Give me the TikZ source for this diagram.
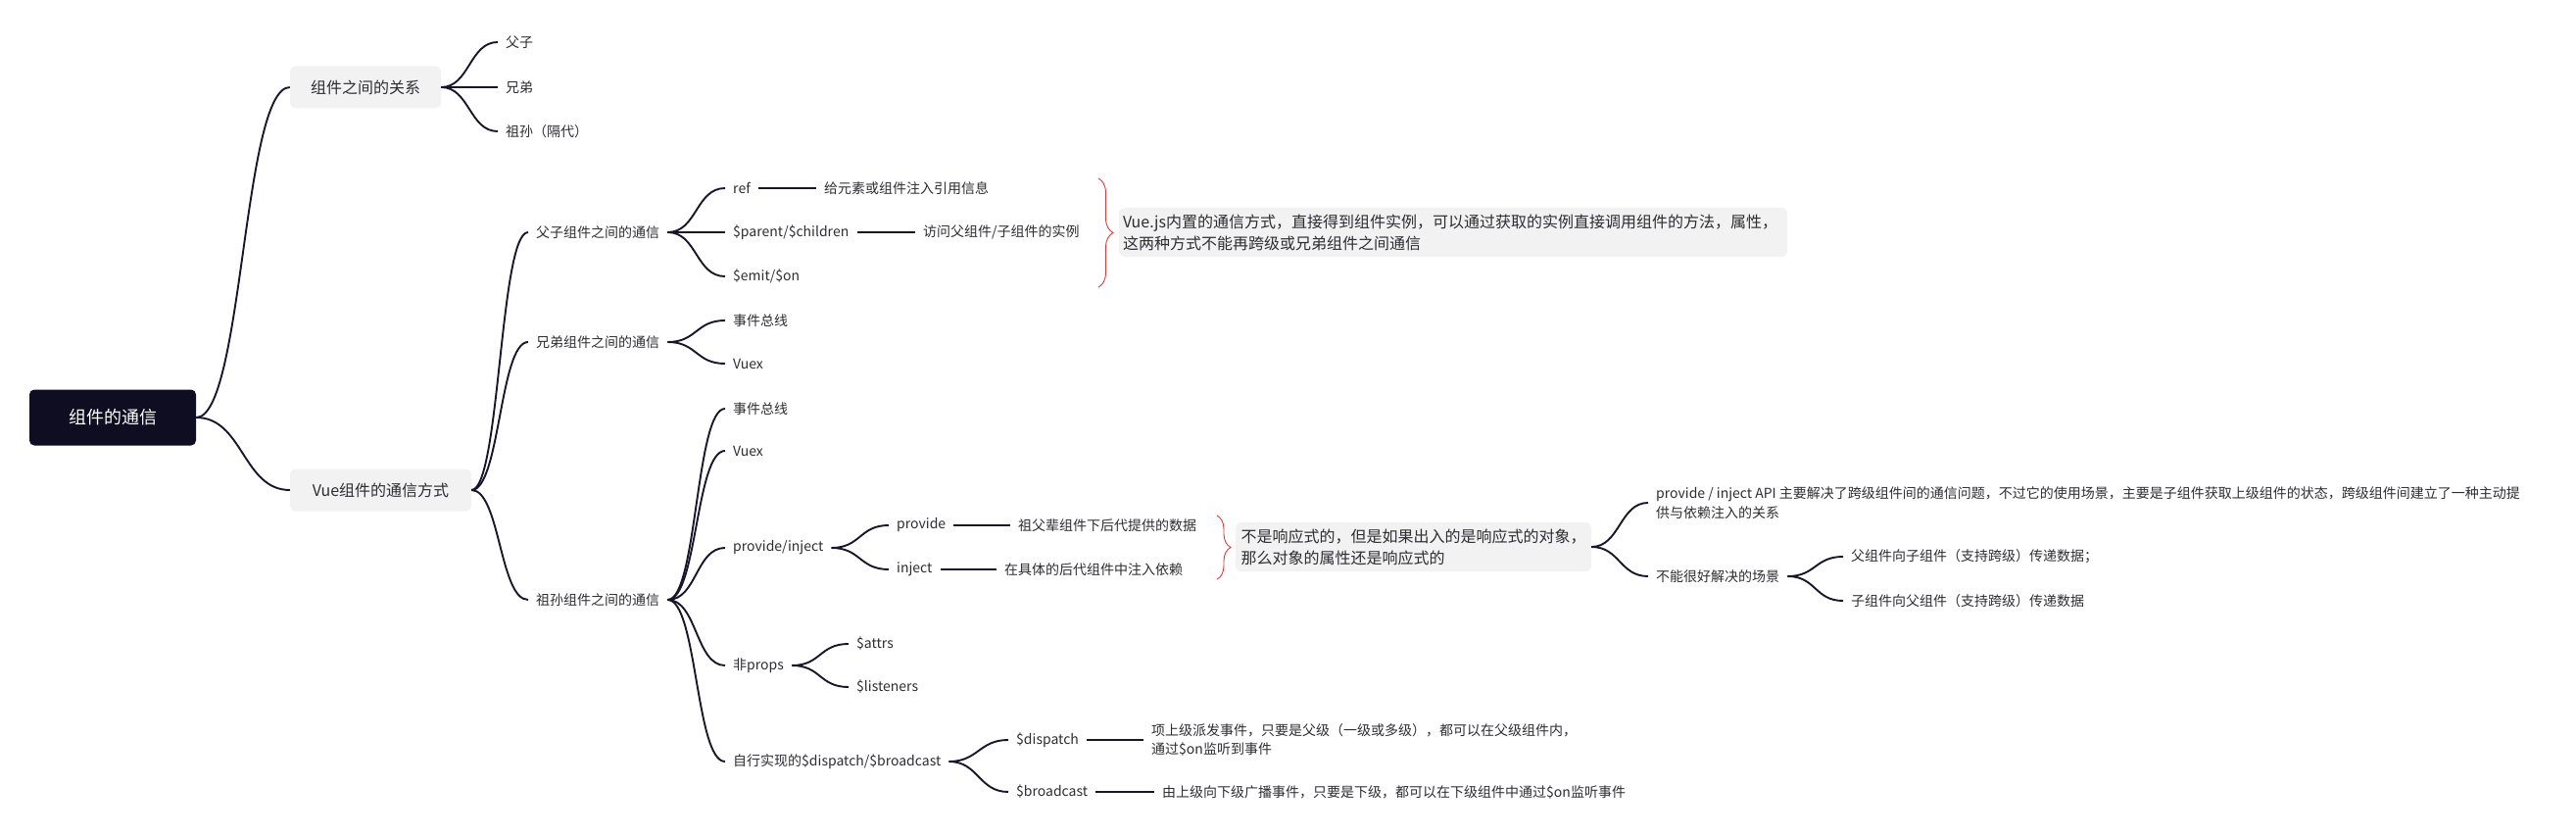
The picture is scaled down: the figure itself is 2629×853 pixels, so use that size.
\documentclass[tikz,border=0pt]{standalone}
\usepackage{fontspec}
\setmainfont{Noto Sans CJK SC}
\usetikzlibrary{decorations.pathreplacing}
\definecolor{rootnavy}{RGB}{15,13,33}
\definecolor{boxgray}{RGB}{242,242,242}
\definecolor{inkgray}{RGB}{45,45,50}
\definecolor{wirenavy}{RGB}{24,22,42}
\definecolor{bracered}{RGB}{220,60,60}
\tikzset{rootbox/.style={fill=rootnavy, text=white, rounded corners=5pt,
  minimum width=170pt, minimum height=57pt, font=\fontsize{18}{22}\selectfont}}
\tikzset{topic/.style={fill=boxgray, text=inkgray, rounded corners=6pt,
  minimum height=43pt, font=\fontsize{16}{20}\selectfont}}
\tikzset{leaf/.style={anchor=west, inner xsep=8pt, inner ysep=2pt, text=inkgray,
  align=left, font=\fontsize{14}{19}\selectfont}}
\tikzset{note/.style={fill=boxgray, text=inkgray, rounded corners=6pt,
  minimum height=50pt, align=left, font=\fontsize{16}{22}\selectfont}}
\tikzset{fork/.style={draw=wirenavy, line width=1.9pt,
  to path={.. controls +(#1,0) and +(-#1,0) .. (\tikztotarget)}}}
\tikzset{stemline/.style={draw=wirenavy, line width=2.4pt}}
\tikzset{curly/.style={decorate, decoration={brace, amplitude=#1},
  draw=bracered, line width=0.9pt}}

\begin{document}
\begin{tikzpicture}[x=1pt,y=-1pt]
  \useasboundingbox (0,0) rectangle (2629,853);
  \node [rootbox] (root) at (115,426) {组件的通信};
  \node [topic, minimum width=154pt] (rel) at (373,89) {组件之间的关系};
  \node [topic, minimum width=185pt] (vue) at (388.5,500) {Vue组件的通信方式};
  \node [leaf] (fz) at (508,43) {父子};
  \node [leaf] (xd) at (508,89) {兄弟};
  \node [leaf] (zs) at (508,134) {祖孙（隔代）};
  \node [leaf] (fzc) at (539,237) {父子组件之间的通信};
  \node [leaf] (xdc) at (539,349) {兄弟组件之间的通信};
  \node [leaf] (zsc) at (539,612) {祖孙组件之间的通信};
  \node [leaf] (ref) at (740,192) {ref};
  \node [leaf] (refd) at (833,192) {给元素或组件注入引用信息};
  \node [leaf] (par) at (740,237) {\$parent/\$children};
  \node [leaf] (pard) at (934,237) {访问父组件/子组件的实例};
  \node [leaf] (emit) at (740,282) {\$emit/\$on};
  \node [note, text width=674pt, inner xsep=4pt] (vjs) at (1483,237)
    {Vue.js内置的通信方式，直接得到组件实例，可以通过获取的实例直接调用组件的方法，属性，\\这两种方式不能再跨级或兄弟组件之间通信};
  \node [leaf] (bus1) at (740,327) {事件总线};
  \node [leaf] (vx1) at (740,371) {Vuex};
  \node [leaf] (bus2) at (740,417) {事件总线};
  \node [leaf] (vx2) at (740,460) {Vuex};
  \node [leaf] (pi) at (740,559) {provide/inject};
  \node [leaf] (np) at (740,679) {非props};
  \node [leaf] (dbc) at (740,777) {自行实现的\$dispatch/\$broadcast};
  \node [leaf] (prov) at (907,536) {provide};
  \node [leaf] (provd) at (1031,536) {祖父辈组件下后代提供的数据};
  \node [leaf] (inj) at (907,581) {inject};
  \node [leaf] (injd) at (1017,581) {在具体的后代组件中注入依赖};
  \node [note, text width=352pt, inner xsep=5.5pt] (rx) at (1442.5,558)
    {不是响应式的，但是如果出入的是响应式的对象，\\那么对象的属性还是响应式的};
  \node [leaf, font=\fontsize{14}{20}\selectfont] (api) at (1682,513)
    {provide / inject API 主要解决了跨级组件间的通信问题，不过它的使用场景，主要是子组件获取上级组件的状态，跨级组件间建立了一种主动提\\供与依赖注入的关系};
  \node [leaf] (bad) at (1682,588) {不能很好解决的场景};
  \node [leaf] (p2c) at (1881,568) {父组件向子组件（支持跨级）传递数据；};
  \node [leaf] (c2p) at (1881,613) {子组件向父组件（支持跨级）传递数据};
  \node [leaf] (att) at (866,657) {\$attrs};
  \node [leaf] (lis) at (866,701) {\$listeners};
  \node [leaf] (dsp) at (1029,755) {\$dispatch};
  \node [leaf] (dspd) at (1167,755)
    {项上级派发事件，只要是父级（一级或多级），都可以在父级组件内，\\通过\$on监听到事件};
  \node [leaf] (brc) at (1029,808) {\$broadcast};
  \node [leaf] (brcd) at (1178,808) {由上级向下级广播事件，只要是下级，都可以在下级组件中通过\$on监听事件};

  \draw [fork=48] (root.east) to (rel.west);
  \draw [fork=48] (root.east) to (vue.west);
  \draw [fork=29] (rel.east) to (fz.west);
  \draw [fork=29] (rel.east) to (xd.west);
  \draw [fork=29] (rel.east) to (zs.west);
  \draw [fork=29] (vue.east) to (fzc.west);
  \draw [fork=29] (vue.east) to (xdc.west);
  \draw [fork=29] (vue.east) to (zsc.west);
  \draw [fork=30] (fzc.east) to (ref.west);
  \draw [fork=30] (fzc.east) to (par.west);
  \draw [fork=30] (fzc.east) to (emit.west);
  \draw [fork=30] (xdc.east) to (bus1.west);
  \draw [fork=30] (xdc.east) to (vx1.west);
  \draw [fork=30] (zsc.east) to (bus2.west);
  \draw [fork=30] (zsc.east) to (vx2.west);
  \draw [fork=30] (zsc.east) to (pi.west);
  \draw [fork=30] (zsc.east) to (np.west);
  \draw [fork=30] (zsc.east) to (dbc.west);
  \draw [fork=30] (pi.east) to (prov.west);
  \draw [fork=30] (pi.east) to (inj.west);
  \draw [fork=30] (np.east) to (att.west);
  \draw [fork=30] (np.east) to (lis.west);
  \draw [fork=30] (dbc.east) to (dsp.west);
  \draw [fork=30] (dbc.east) to (brc.west);
  \draw [fork=29] (rx.east) to (api.west);
  \draw [fork=29] (rx.east) to (bad.west);
  \draw [fork=29] (bad.east) to (p2c.west);
  \draw [fork=29] (bad.east) to (c2p.west);
  \draw [stemline] (ref.east) -- (refd.west);
  \draw [stemline] (par.east) -- (pard.west);
  \draw [stemline] (prov.east) -- (provd.west);
  \draw [stemline] (inj.east) -- (injd.west);
  \draw [stemline] (dsp.east) -- (dspd.west);
  \draw [stemline] (brc.east) -- (brcd.west);
  \draw [curly=15pt] (1121,182) -- (1121,293);
  \draw [curly=14pt] (1242,526) -- (1242,591);
\end{tikzpicture}
\end{document}
